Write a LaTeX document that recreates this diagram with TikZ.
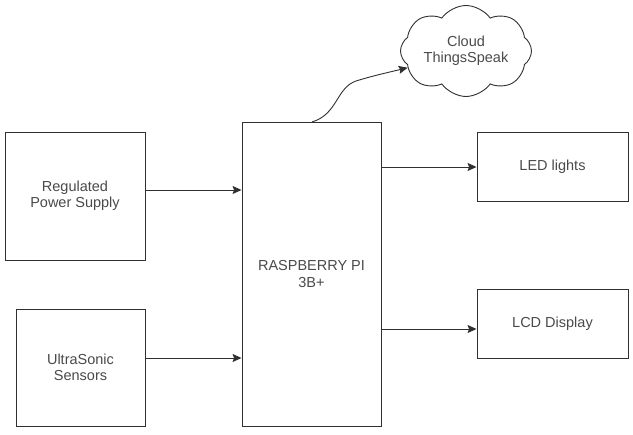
\documentclass[tikz,border=0pt]{standalone}
\usepackage{fontspec}
\setmainfont{Liberation Sans}
\usetikzlibrary{shapes.symbols,arrows.meta}
\definecolor{linec}{HTML}{303030}
\definecolor{textc}{HTML}{4A4A4A}
\tikzset{
  blk/.style={draw=linec, line width=0.9pt, fill=white, inner sep=0pt, align=center,
    text=textc, font=\fontsize{14.5}{16.5}\selectfont},
  conn/.style={draw=linec, line width=0.9pt, -{Stealth[length=9pt,width=8pt,inset=1.5pt]}},
}
\begin{document}
\begin{tikzpicture}[x=1pt,y=-1pt]
\useasboundingbox (0,0) rectangle (633,435);
\node[blk, minimum width=140, minimum height=128] (reg) at (75,196) {Regulated\\Power Supply};
\node[blk, minimum width=129, minimum height=117] (ultra) at (80.5,367.5) {UltraSonic\\Sensors};
\node[blk, minimum width=139, minimum height=304] (rpi) at (311.5,274) {RASPBERRY PI\\3B+};
\node[blk, minimum width=151, minimum height=69] (led) at (552.5,166.5) {LED lights};
\node[blk, minimum width=151, minimum height=69] (lcd) at (552.5,323.5) {LCD Display};
\node[blk, cloud, cloud puffs=8, cloud puff arc=110, cloud ignores aspect,
  minimum width=131, minimum height=91] (cloud) at (466,51) {Cloud\\ThingsSpeak};
\coordinate (p1) at (0,190);
\coordinate (p2) at (0,358);
\coordinate (p3) at (0,167);
\coordinate (p4) at (0,329);
\draw[conn] ([xshift=1pt]reg.east |- p1) -- (rpi.west |- p1);
\draw[conn] ([xshift=1pt]ultra.east |- p2) -- (rpi.west |- p2);
\draw[conn] (rpi.east |- p3) -- (led.west |- p3);
\draw[conn] (rpi.east |- p4) -- (lcd.west |- p4);
\coordinate (cs) at (312,122);
\draw[conn] (cs) .. controls (338,114) and (336,88) .. (356,81) .. controls (372,76) and (390,72) .. (cloud.196);
\end{tikzpicture}
\end{document}
